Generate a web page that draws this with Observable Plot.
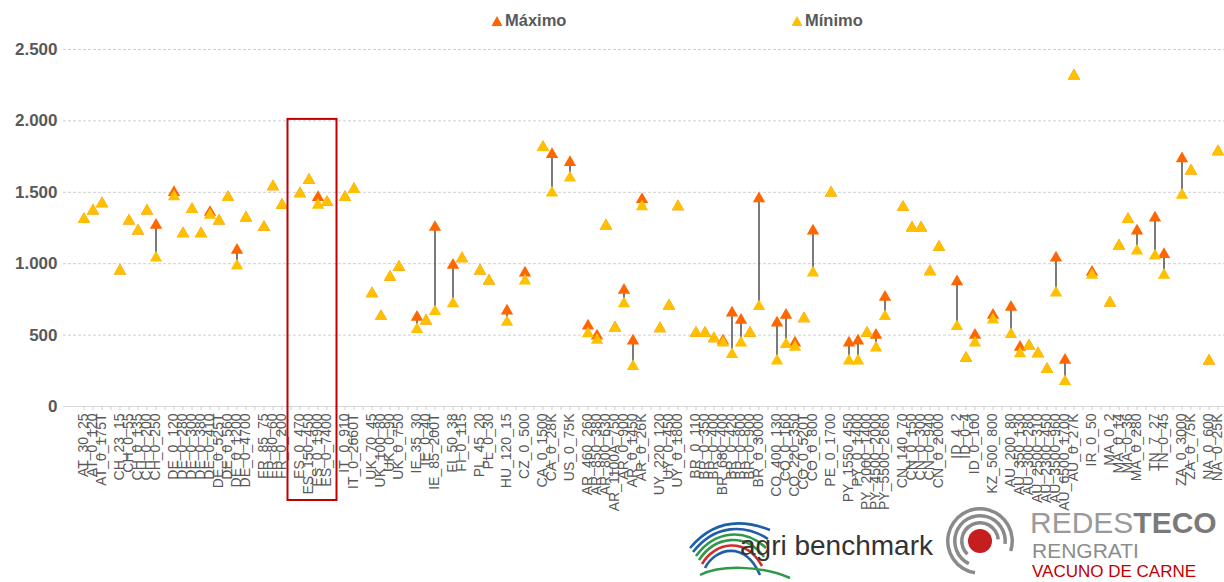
<!DOCTYPE html>
<html>
<head>
<meta charset="utf-8">
<script src="https://cdn.jsdelivr.net/npm/d3@7"></script>
<script src="https://cdn.jsdelivr.net/npm/@observablehq/plot@0.6"></script>
<style>
  body { margin: 0; background: #fff; font-family: Arial, "Liberation Sans", sans-serif; }
  #wrap { position: relative; width: 1224px; height: 582px; overflow: hidden; }
  .leg { position: absolute; top: 11px; font-size: 16.5px; font-weight: bold; color: #595959; display: flex; align-items: center; }
  .leg svg { margin-right: 2px; }
  #logos { position: absolute; left: 0; top: 0; pointer-events: none; }
</style>
</head>
<body>
<div id="wrap"></div>
<script>
// ---- data ----
const categories = [
  "AT_30_25","AT_0_120","AT_0_175T",
  "CH_23_15","CH_0_55","CH_0_135","CH_0_200","CH_0_250",
  "DE_0_120","DE_0_280","DE_0_300","DE_0_380","DE_0_410","DE_0_525T","DE_0_560","DE_0_1200","DE_0_4700",
  "FR_85_75","FR_80_60","FR_0_200",
  "ES_0_470","ES_150_450","ES_0_1900","ES_0_7400",
  "IT_0_910","IT_0_2660T",
  "UK_70_45","UK_100_80","UK_0_90","UK_0_750",
  "IE_35_30","IE_0_40","IE_85_200T",
  "FI_50_38","FI_0_115",
  "PL_45_20","PL_0_30",
  "HU_120_15",
  "CZ_0_500",
  "CA_0_1500","CA_0_28K",
  "US_0_75K",
  "AR_460_260","AR_850_380","AR_800_630","AR_1100A_750","AR_0_900","AR_0_1450","AR_0_26K",
  "UY_220_120","UY_0_450","UY_0_1800",
  "BR_0_110","BR_0_350","BR_0_400","BR_680_400","BR_0_420","BR_0_800","BR_0_900","BR_0_3000",
  "CO_400_130","CO_0_160","CO_220_350","CO_0_520T","CO_0_800",
  "PE_0_1700",
  "PY_1550_450","PY_0_1400","PY_2000_1400","PY_4500_2000","PY_5500_2660",
  "CN_140_70","CN_0_150","CN_0_300","CN_0_940","CN_0_2000",
  "ID_4_2","ID_0_4","ID_0_100",
  "KZ_500_800",
  "AU_200_80","AU_350_130","AU_300_280","AU_2500_310","AU_2300_450","AU_3500_960","AU_6500_1700","AU_0_27K",
  "IR_0_50",
  "MA_0_2","MA_0_14","MA_0_36","MA_0_280",
  "TN_7_27","TN_0_45",
  "ZA_0_3000","ZA_0_75K",
  "NA_0_600","NA_0_25K"
];
const maximo = [
  1310,1370,1420,
  950,1300,1230,1370,1270,
  1500,1210,1380,1210,1360,1300,1465,1095,1320,
  1255,1540,1410,
  1490,1585,1465,1430,
  1465,1520,
  790,630,905,975,
  625,600,1255,
  990,1035,
  950,880,
  670,
  935,
  1815,1765,
  1710,
  565,495,1265,550,815,460,1450,
  545,705,1400,
  513,513,475,460,655,605,513,1455,
  585,640,445,615,1230,
  1495,
  445,460,513,500,765,
  1395,1250,1250,945,1115,
  875,338,500,
  640,
  695,415,425,370,260,1040,325,2315,
  940,
  725,1125,1310,1230,
  1320,1065,
  1735,1650,
  320,1785
];
const minimo = [
  1310,1370,1420,
  950,1300,1230,1370,1040,
  1470,1210,1380,1210,1340,1300,1465,985,1320,
  1255,1540,1410,
  1490,1585,1410,1430,
  1465,1520,
  790,630,905,975,
  540,600,665,
  720,1035,
  950,880,
  590,
  880,
  1815,1495,
  1600,
  510,465,1265,550,720,280,1400,
  545,705,1400,
  513,513,475,445,365,445,513,700,
  320,435,415,615,935,
  1495,
  320,320,513,410,630,
  1395,1250,1250,945,1115,
  560,338,445,
  607,
  505,370,425,370,260,795,175,2315,
  920,
  725,1125,1310,1090,
  1055,920,
  1480,1650,
  320,1785
];
const yTicks = [0, 500, 1000, 1500, 2000, 2500];
const seriesNames = ["Máximo", "Mínimo"];
const seriesColors = ["#FF6600", "#FFC000"];
const highlightGroup = "ES";

// ---- build table & domain (empty slot between country groups) ----
const data = categories.map((c, i) => ({cat: c, max: maximo[i], min: minimo[i]}));
const domain = [];
let prevGroup = null, gapN = 0;
for (const c of categories) {
  const g = c.split("_")[0];
  if (prevGroup !== null && g !== prevGroup) domain.push("\u200b" + (gapN++));
  domain.push(c);
  prevGroup = g;
}
const fmt = d => d3.format(",")(d).replace(/,/g, ".");

const chart = Plot.plot({
  width: 1224,
  height: 582,
  marginTop: 49,
  marginBottom: 176,
  marginLeft: 63,
  marginRight: 0,
  style: {fontFamily: "Arial, 'Liberation Sans', sans-serif", background: "transparent"},
  x: {type: "band", domain, range: [75.5, 1225], padding: 0, label: null},
  y: {domain: [0, 2500], label: null},
  marks: [
    Plot.ruleY(yTicks.slice(1), {stroke: "#cfcfcf", strokeDasharray: "3,2", strokeWidth: 1}),
    Plot.ruleY([0], {stroke: "#d9d9d9", strokeWidth: 1}),
    Plot.axisY({ticks: yTicks, tickSize: 0, tickPadding: 6, tickFormat: fmt, fontSize: 17, fontWeight: "bold", fill: "#595959"}),
    Plot.axisX({tickRotate: -90, tickSize: 4, tickPadding: 3, fontSize: 14, fill: "#595959", stroke: "#cfcfcf",
      tickFormat: d => d.startsWith("\u200b") ? "" : d}),
    Plot.ruleX(data, {x: "cat", y1: "min", y2: "max", stroke: "#222", strokeWidth: 1.2}),
    Plot.dot(data, {x: "cat", y: "max", symbol: "triangle", r: 4.6, fill: seriesColors[0], stroke: "none"}),
    Plot.dot(data, {x: "cat", y: "min", symbol: "triangle", r: 4.6, fill: seriesColors[1], stroke: "none"})
  ]
});
const wrap = document.getElementById("wrap");
wrap.appendChild(chart);

// ---- highlight box around the ES group, from the scales ----
const xs = chart.scale("x"), ys = chart.scale("y");
const hl = categories.filter(c => c.startsWith(highlightGroup + "_"));
const bw = xs.bandwidth;
const boxL = xs.apply(hl[0]) + bw / 2 - 12;
const boxR = xs.apply(hl[hl.length - 1]) + bw / 2 + 10;
const boxT = ys.apply(2000) - 1.5;
const boxB = ys.apply(0) + 94;
d3.select(chart).append("rect")
  .attr("x", boxL).attr("y", boxT).attr("width", boxR - boxL).attr("height", boxB - boxT)
  .attr("fill", "none").attr("stroke", "#C00000").attr("stroke-width", 2);

// ---- legend ----
const legX = [491, 791];
seriesNames.forEach((name, i) => {
  const d = document.createElement("div");
  d.className = "leg";
  d.style.left = legX[i] + "px";
  d.innerHTML = `<svg width="12" height="12"><path d="M6,1 L11.5,11 L0.5,11 Z" fill="${seriesColors[i]}"/></svg>${name}`;
  wrap.appendChild(d);
});

// ---- logos (decorative) ----
const logos = d3.select(wrap).append("svg").attr("id", "logos").attr("width", 1224).attr("height", 582);
const sw = logos.append("g");
const swooshColors = ["#1f5fa8", "#1f5fa8", "#2e9a48", "#2e9a48", "#d12b2b", "#1f5fa8"];
swooshColors.forEach((c, i) => {
  const y0 = 548 + i * 4;
  sw.append("path")
    .attr("d", `M${690 + i * 3},${y0} C${715},${y0 - 30 + i * 2} ${745},${y0 - 28} ${770 - i * 2},${y0 - 18 + i * 5}`)
    .attr("fill", "none").attr("stroke", c).attr("stroke-width", 2.6);
});
sw.append("path").attr("d", "M700,575 C720,565 760,565 790,578").attr("fill", "none").attr("stroke", "#2e9a48").attr("stroke-width", 2.5);
logos.append("text").attr("x", 740).attr("y", 555).attr("font-size", 28).attr("fill", "#333")
  .attr("font-family", "Arial, 'Liberation Sans', sans-serif").text("agri benchmark");
const tg = logos.append("g").attr("transform", "translate(980,541)");
[34, 27, 20].forEach((r, i) => {
  const arc = d3.arc()({innerRadius: r - 3.5, outerRadius: r, startAngle: -Math.PI * 0.95 + i * 0.3, endAngle: Math.PI * 0.6 - i * 0.2});
  tg.append("path").attr("d", arc).attr("fill", "#8a8a8a");
});
tg.append("circle").attr("r", 12).attr("fill", "#C41E1E");
const t1 = logos.append("text").attr("x", 1030).attr("y", 533).attr("font-size", 30).attr("fill", "#8c8c8c")
  .attr("font-family", "Arial, 'Liberation Sans', sans-serif");
t1.append("tspan").attr("font-weight", "normal").attr("fill", "#9a9a9a").text("REDES");
t1.append("tspan").attr("font-weight", "bold").attr("fill", "#7a7a7a").text("TECO");
logos.append("text").attr("x", 1032).attr("y", 558).attr("font-size", 21).attr("fill", "#8c8c8c")
  .attr("font-family", "Arial, 'Liberation Sans', sans-serif").text("RENGRATI");
logos.append("text").attr("x", 1032).attr("y", 577).attr("font-size", 17).attr("fill", "#C00000")
  .attr("font-family", "Arial, 'Liberation Sans', sans-serif").text("VACUNO DE CARNE");
</script>
</body>
</html>
